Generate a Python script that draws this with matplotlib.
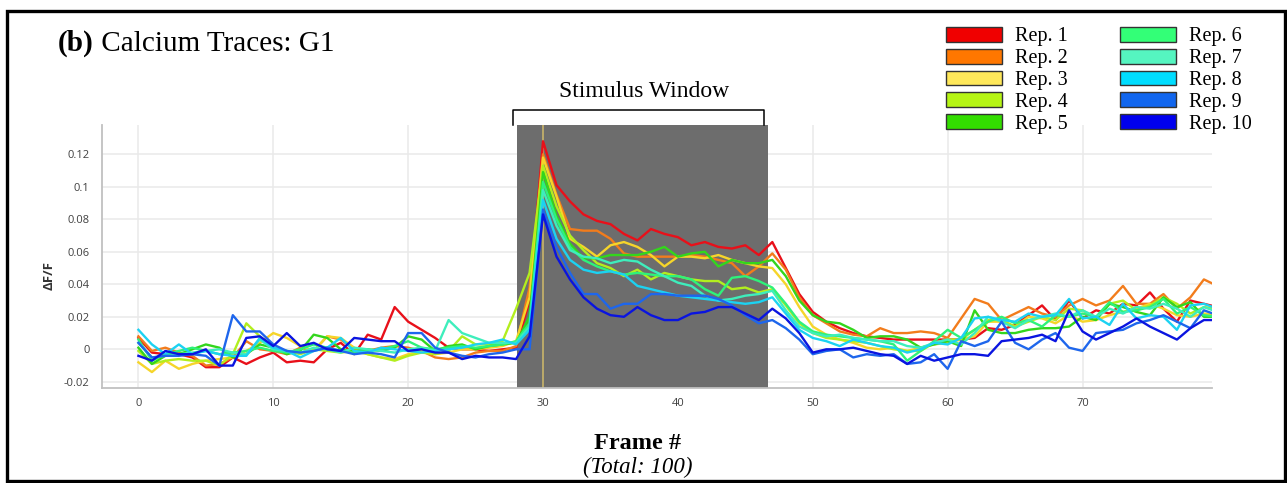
import numpy as np
import matplotlib
matplotlib.use('Agg')
import matplotlib.pyplot as plt
from matplotlib.patches import Patch, Rectangle

# ---- data (dF/F per frame) ----
frames = np.arange(81)

rep1 = [0.007, -0.002, -0.003, -0.003, -0.005, -0.011, -0.011, -0.005, -0.009, -0.005,
        -0.002, -0.008, -0.007, -0.008, 0.000, 0.004, -0.003, 0.009, 0.006, 0.026,
        0.017, 0.012, 0.007, 0.001, 0.000, 0.000, -0.001, 0.000, 0.001, 0.030,
        0.128, 0.101, 0.091, 0.083, 0.079, 0.077, 0.071, 0.067, 0.074, 0.071,
        0.069, 0.064, 0.066, 0.063, 0.062, 0.064, 0.058, 0.066, 0.050, 0.034,
        0.023, 0.017, 0.013, 0.010, 0.008, 0.007, 0.006, 0.006, 0.006, 0.006,
        0.006, 0.006, 0.007, 0.013, 0.012, 0.015, 0.021, 0.027, 0.018, 0.030,
        0.019, 0.024, 0.022, 0.028, 0.027, 0.035, 0.025, 0.017, 0.030, 0.028,
        0.026]
rep2 = [0.008, -0.001, 0.001, -0.002, -0.004, -0.010, -0.009, -0.005, 0.005, 0.000,
        -0.001, -0.003, 0.001, -0.001, 0.008, 0.006, 0.000, -0.001, 0.001, 0.002,
        0.001, -0.001, -0.005, -0.006, -0.005, -0.002, -0.001, -0.001, 0.002, 0.038,
        0.120, 0.095, 0.074, 0.073, 0.073, 0.068, 0.059, 0.057, 0.057, 0.057,
        0.057, 0.058, 0.057, 0.055, 0.053, 0.045, 0.051, 0.059, 0.049, 0.032,
        0.021, 0.016, 0.011, 0.009, 0.008, 0.013, 0.010, 0.010, 0.011, 0.010,
        0.007, 0.019, 0.031, 0.028, 0.018, 0.022, 0.026, 0.022, 0.020, 0.027,
        0.031, 0.027, 0.030, 0.039, 0.028, 0.028, 0.034, 0.025, 0.032, 0.043,
        0.039]
rep3 = [-0.008, -0.014, -0.007, -0.012, -0.009, -0.007, -0.006, -0.005, -0.001, 0.004,
        0.010, 0.007, 0.002, -0.001, 0.008, 0.007, 0.001, -0.003, -0.005, -0.006,
        -0.003, -0.001, -0.003, -0.002, 0.000, 0.000, 0.001, 0.002, 0.005, 0.032,
        0.118, 0.094, 0.068, 0.063, 0.057, 0.064, 0.066, 0.063, 0.058, 0.051,
        0.057, 0.057, 0.056, 0.058, 0.055, 0.053, 0.051, 0.050, 0.040, 0.026,
        0.014, 0.009, 0.006, 0.004, 0.001, 0.000, 0.001, -0.001, 0.001, 0.003,
        0.004, 0.006, 0.008, 0.017, 0.017, 0.014, 0.020, 0.019, 0.016, 0.021,
        0.017, 0.018, 0.021, 0.023, 0.025, 0.028, 0.025, 0.021, 0.020, 0.022,
        0.021]
rep4 = [-0.001, -0.009, -0.007, -0.006, -0.007, -0.007, -0.010, -0.003, 0.016, 0.008,
        0.001, -0.001, -0.003, 0.000, -0.001, -0.002, -0.001, -0.003, -0.005, -0.007,
        -0.004, -0.002, -0.003, -0.001, 0.008, 0.003, 0.003, 0.005, 0.025, 0.047,
        0.113, 0.088, 0.070, 0.061, 0.053, 0.050, 0.045, 0.049, 0.043, 0.047,
        0.045, 0.043, 0.042, 0.042, 0.037, 0.038, 0.035, 0.037, 0.027, 0.016,
        0.010, 0.007, 0.006, 0.005, 0.004, 0.002, 0.000, -0.001, -0.001, 0.004,
        0.006, 0.006, 0.012, 0.018, 0.018, 0.014, 0.017, 0.020, 0.018, 0.025,
        0.024, 0.019, 0.028, 0.030, 0.024, 0.027, 0.032, 0.028, 0.022, 0.026,
        0.025]
rep5 = [0.001, -0.009, -0.004, -0.003, 0.000, 0.003, 0.001, -0.005, -0.003, 0.003,
        0.001, -0.003, -0.001, 0.009, 0.007, 0.000, -0.001, 0.000, -0.001, 0.001,
        0.008, 0.006, -0.001, 0.002, 0.003, 0.000, 0.002, 0.003, 0.004, 0.020,
        0.109, 0.082, 0.065, 0.056, 0.056, 0.058, 0.058, 0.058, 0.060, 0.063,
        0.057, 0.059, 0.060, 0.051, 0.055, 0.053, 0.053, 0.055, 0.045, 0.030,
        0.021, 0.017, 0.016, 0.012, 0.007, 0.008, 0.008, 0.006, 0.001, 0.003,
        0.005, 0.002, 0.024, 0.012, 0.010, 0.010, 0.012, 0.013, 0.013, 0.014,
        0.020, 0.018, 0.028, 0.026, 0.023, 0.021, 0.032, 0.026, 0.029, 0.020,
        0.020]
rep6 = [0.006, -0.007, -0.003, -0.001, 0.001, -0.001, -0.003, -0.002, -0.001, 0.001,
        -0.001, -0.002, 0.000, 0.003, 0.001, -0.001, -0.002, -0.001, 0.000, 0.002,
        0.005, 0.001, 0.000, 0.001, 0.002, 0.001, 0.002, 0.003, 0.005, 0.016,
        0.103, 0.080, 0.063, 0.055, 0.051, 0.048, 0.046, 0.047, 0.046, 0.045,
        0.045, 0.043, 0.037, 0.033, 0.044, 0.045, 0.042, 0.038, 0.028, 0.017,
        0.011, 0.009, 0.008, 0.007, 0.006, 0.005, 0.003, -0.007, -0.001, 0.005,
        0.012, 0.007, 0.012, 0.017, 0.020, 0.016, 0.018, 0.014, 0.021, 0.020,
        0.022, 0.020, 0.029, 0.023, 0.024, 0.026, 0.031, 0.022, 0.026, 0.021,
        0.020]
rep7 = [0.004, -0.005, -0.004, -0.003, -0.002, -0.001, 0.000, -0.002, -0.003, 0.006,
        0.000, -0.001, -0.002, 0.001, 0.000, -0.002, 0.001, 0.000, -0.001, -0.002,
        0.000, 0.001, -0.001, 0.018, 0.010, 0.007, 0.004, 0.004, 0.004, 0.014,
        0.098, 0.076, 0.061, 0.057, 0.056, 0.053, 0.055, 0.054, 0.049, 0.045,
        0.041, 0.039, 0.033, 0.030, 0.031, 0.033, 0.034, 0.036, 0.024, 0.014,
        0.010, 0.008, 0.009, 0.007, 0.006, 0.005, 0.005, 0.002, 0.001, 0.004,
        0.006, 0.003, 0.010, 0.020, 0.017, 0.013, 0.018, 0.020, 0.022, 0.020,
        0.024, 0.020, 0.025, 0.022, 0.026, 0.025, 0.028, 0.025, 0.020, 0.026,
        0.023]
rep8 = [0.012, 0.003, -0.003, 0.003, -0.003, -0.001, -0.003, -0.004, -0.004, 0.007,
        0.001, -0.001, -0.005, -0.001, 0.001, 0.007, -0.001, -0.002, 0.001, 0.000,
        -0.001, -0.002, -0.001, 0.000, 0.001, 0.003, 0.004, 0.006, 0.003, 0.012,
        0.092, 0.068, 0.055, 0.049, 0.047, 0.048, 0.046, 0.039, 0.037, 0.035,
        0.033, 0.032, 0.031, 0.030, 0.029, 0.028, 0.029, 0.032, 0.022, 0.012,
        0.007, 0.005, 0.002, 0.006, 0.004, 0.002, 0.001, -0.002, 0.000, 0.004,
        0.003, 0.007, 0.019, 0.020, 0.018, 0.017, 0.022, 0.020, 0.021, 0.031,
        0.019, 0.020, 0.015, 0.028, 0.019, 0.021, 0.020, 0.012, 0.027, 0.028,
        0.025]
rep9 = [0.004, -0.005, -0.004, -0.004, -0.003, -0.004, -0.010, 0.021, 0.011, 0.011,
        0.003, -0.001, -0.002, -0.001, 0.001, -0.001, -0.003, -0.002, -0.003, -0.005,
        0.010, 0.010, 0.001, -0.002, -0.004, -0.005, -0.003, -0.002, 0.000, 0.000,
        0.086, 0.063, 0.047, 0.034, 0.034, 0.025, 0.028, 0.028, 0.034, 0.034,
        0.033, 0.033, 0.033, 0.031, 0.027, 0.021, 0.016, 0.018, 0.013, 0.006,
        -0.003, -0.001, 0.000, -0.005, -0.003, -0.004, -0.003, -0.009, -0.008, -0.003,
        -0.012, 0.005, 0.002, 0.005, 0.017, 0.004, 0.000, 0.006, 0.010, 0.001,
        -0.001, 0.010, 0.011, 0.012, 0.016, 0.018, 0.021, 0.017, 0.013, 0.024,
        0.021]
rep10 = [-0.004, -0.007, -0.001, -0.003, -0.003, 0.000, -0.010, -0.010, 0.007, 0.008,
         0.002, 0.010, 0.002, 0.004, 0.000, -0.001, 0.007, 0.006, 0.005, 0.005,
         -0.001, 0.000, -0.002, -0.002, -0.006, -0.004, -0.005, -0.005, -0.006, 0.008,
         0.083, 0.057, 0.043, 0.032, 0.025, 0.021, 0.020, 0.026, 0.021, 0.018,
         0.018, 0.022, 0.023, 0.026, 0.026, 0.022, 0.018, 0.025, 0.019, 0.010,
         -0.002, 0.000, 0.000, 0.001, -0.001, -0.003, -0.004, -0.009, -0.004, -0.007,
         -0.005, -0.003, -0.003, -0.004, 0.005, 0.006, 0.007, 0.009, 0.005, 0.024,
         0.011, 0.006, 0.010, 0.014, 0.019, 0.014, 0.010, 0.006, 0.013, 0.018,
         0.018]

reps = [rep1, rep2, rep3, rep4, rep5, rep6, rep7, rep8, rep9, rep10]
rep_labels = ['Rep. %d' % i for i in range(1, 11)]

xtick_vals = [0, 10, 20, 30, 40, 50, 60, 70]
ytick_vals = [-0.02, 0, 0.02, 0.04, 0.06, 0.08, 0.1, 0.12]
ytick_labels = ['-0.02', '0', '0.02', '0.04', '0.06', '0.08', '0.1', '0.12']

stim_start, stim_end, stim_peak = 28.05, 46.7, 30

line_colors = ['#e8101a', '#f27c1c', '#f6d52a', '#b2ee1e', '#33d61c',
               '#2ef27a', '#3eeebc', '#1cd2f2', '#1e66ec', '#0a14e0']
legend_colors = ['#f00000', '#ff7700', '#ffe85a', '#b6f514', '#33dd00',
                 '#33ff77', '#55f5c0', '#00ddff', '#1166ee', '#0000ee']

SERIF = 'Liberation Serif'
plt.rcParams['font.family'] = ['Open Sans', 'DejaVu Sans']

W, H = 1287, 483
fig = plt.figure(figsize=(W / 100, H / 100), dpi=100)
ax = fig.add_axes([102 / W, 95 / H, 1110 / W, 263 / H])

# stimulus window + frame-30 marker
ax.axvspan(stim_start, stim_end, color='#6d6d6d', lw=0, zorder=1)
ax.axvline(stim_peak, color='#c9b46a', lw=1.2, zorder=1.5)

for vals, c in zip(reps, line_colors):
    ax.plot(frames, vals, color=c, lw=1.7, zorder=2)

ax.set_xlim(-2.7, 79.6)
ax.set_ylim(-0.0238, 0.138)
ax.set_xticks(xtick_vals)
ax.set_yticks(ytick_vals)
ax.set_yticklabels(ytick_labels)
ax.grid(True, color='#e9e9e9', lw=1.1)
ax.set_axisbelow(True)
for s in ['top', 'right']:
    ax.spines[s].set_visible(False)
for s in ['left', 'bottom']:
    ax.spines[s].set_color('#c0c0c0')
    ax.spines[s].set_linewidth(1.3)
ax.tick_params(axis='both', length=0, labelsize=8, labelcolor='#404040')
ax.tick_params(axis='x', pad=7)
ax.tick_params(axis='y', pad=9)

# bracket over the stimulus window
ax.plot([27.75, 27.75, 46.4, 46.4], [0.138, 0.1473, 0.1473, 0.138],
        color='black', lw=1.1, clip_on=False, solid_joinstyle='round')
fig.text(644 / W, 1 - 97 / H, 'Stimulus Window', ha='center', va='baseline',
         family=SERIF, fontsize=17)

# title: bold panel letter followed by regular text
t1 = fig.text(58 / W, 1 - 51 / H, '(b)', family=SERIF, fontsize=21,
              fontweight='bold', va='baseline')
ax.annotate(' Calcium Traces: G1', xy=(1, 0), xycoords=t1, ha='left', va='bottom',
            family=SERIF, fontsize=21, annotation_clip=False)

# axis labels
fig.text(49 / W, 1 - 276 / H, 'ΔF/F', rotation=90, ha='center', va='center',
         fontsize=9.5, fontweight='bold', color='#333333')
fig.text(638 / W, 1 - 449 / H, 'Frame #', ha='center', va='baseline',
         family=SERIF, fontsize=17.5, fontweight='bold')
fig.text(638 / W, 1 - 473 / H, '(Total: 100)', ha='center', va='baseline',
         family=SERIF, fontsize=16.5, style='italic')

# legend
handles = [Patch(facecolor=c, edgecolor='#333333', lw=1) for c in legend_colors]
fig.legend(handles, rep_labels, ncol=2, loc='upper left',
           bbox_to_anchor=(946 / W, 1 - 27 / H), frameon=False,
           prop={'family': SERIF, 'size': 14.5}, handlelength=2.8,
           handleheight=0.75, handletextpad=0.65, labelspacing=0.12,
           columnspacing=2.55, borderpad=0, borderaxespad=0)

# outer frame
fig.add_artist(Rectangle((6.5 / W, 2 / H), (1285 - 6.5) / W, (481 - 11) / H,
                         transform=fig.transFigure, fill=False,
                         edgecolor='black', lw=2.4))

fig.savefig('out.png', dpi=100)
